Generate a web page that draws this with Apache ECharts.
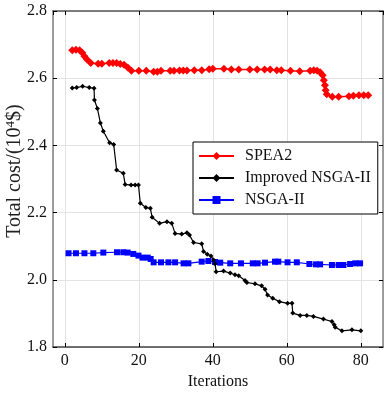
<!DOCTYPE html>
<html><head><meta charset="utf-8">
<script src="https://cdn.jsdelivr.net/npm/echarts@6/dist/echarts.min.js"></script>
<style>html,body{margin:0;padding:0;background:#fff}#c{width:390px;height:393px}</style>
</head><body><div id="c"></div>
<script>
const seriesNames = ['SPEA2', 'Improved NSGA-II', 'NSGA-II'];
const spea2X = [2,3,4,4.7,5.3,6,7,9,10,12,13,14,15,16,17,18,20,22,24,25,26,28.5,29.5,31,32,33,35,37,39,40,43,45,47,50,52,54,55.5,57.3,58.5,61,63.5,66.3,67.3,68.2,69,69.7,70,70.3,70.5,70.8,72.3,74,76.8,78,79.5,80.8,82];
const spea2Y = [2.683,2.685,2.683,2.676,2.665,2.656,2.645,2.643,2.643,2.645,2.645,2.645,2.642,2.64,2.632,2.622,2.622,2.622,2.619,2.619,2.622,2.622,2.622,2.623,2.623,2.623,2.624,2.624,2.627,2.628,2.628,2.626,2.626,2.626,2.626,2.626,2.626,2.624,2.624,2.622,2.621,2.622,2.624,2.622,2.618,2.609,2.594,2.579,2.564,2.552,2.545,2.545,2.546,2.548,2.549,2.549,2.549];
const impX = [2,3.2,4.8,6.6,7.9,8,8.8,9.6,10.4,12.1,13.2,14,15.8,16.3,17.9,19,19.9,20.4,21.9,23.1,23.6,25.6,27.6,28.9,29.8,31.6,33,33.7,34.8,37,37.5,38.5,39.5,40.2,40.6,40.9,42.9,44.7,46,47,48.7,49.2,51.4,53.2,54.1,54.8,56.2,58,60.2,61.4,61.6,63.6,65.4,67.2,69.9,72.2,72.8,73.1,74.9,77.6,80];
const impY = [2.571,2.572,2.576,2.572,2.570,2.535,2.510,2.467,2.442,2.408,2.403,2.327,2.317,2.284,2.282,2.282,2.282,2.228,2.215,2.213,2.186,2.168,2.173,2.168,2.138,2.136,2.140,2.133,2.111,2.107,2.084,2.076,2.071,2.059,2.048,2.024,2.026,2.020,2.015,2.012,1.998,1.992,1.988,1.982,1.972,1.955,1.945,1.935,1.930,1.930,1.901,1.894,1.894,1.891,1.883,1.876,1.866,1.859,1.848,1.851,1.848];
const nsgaX = [1,3,5.3,7.7,10.4,14.1,15.8,17,18.5,19.9,21,22.4,23.2,24,26,28,29.8,32.1,33.4,37,38.8,40.6,42,44.7,47.6,50.8,52.1,54.1,56.8,57.7,60.2,62.7,66.1,67.9,69,72.2,74,75.3,77.1,78.5,79.8];
const nsgaY = [2.079,2.079,2.079,2.079,2.081,2.082,2.082,2.081,2.077,2.072,2.066,2.066,2.062,2.052,2.052,2.052,2.052,2.049,2.049,2.054,2.056,2.053,2.051,2.049,2.049,2.049,2.049,2.051,2.054,2.054,2.052,2.052,2.047,2.046,2.046,2.044,2.044,2.044,2.047,2.049,2.049];
const xName = 'Iterations';
const yMin = 1.8, yMax = 2.8, yStep = 0.2;
const xMin = -3.2, xMax = 86;

const zip = (xs, ys) => xs.map((x, i) => [x, ys[i]]);
const FONT = 'Liberation Serif';
const axisCol = '#808080';
const baseAxis = {
  axisLine: { show: true, onZero: false, lineStyle: { color: axisCol, width: 1.5 } },
  axisTick: { show: true, inside: true, length: 4, lineStyle: { color: '#000', width: 1 } },
  splitLine: { show: false }
};
const chart = echarts.init(document.getElementById('c'), null, { renderer: 'canvas' });
chart.setOption({
  animation: false,
  backgroundColor: '#fff',
  textStyle: { fontFamily: FONT },
  grid: { left: 53, right: 7, top: 11, bottom: 46, containLabel: false, outerBoundsMode: 'none' },
  legend: {
    orient: 'vertical', left: 193, top: 142,
    padding: [6, 7, 6, 5], itemGap: 6, itemWidth: 35, itemHeight: 10,
    borderColor: '#000', borderWidth: 1, backgroundColor: '#fff',
    textStyle: { fontFamily: FONT, fontSize: 16, color: '#111', padding: [0, 0, 0, 6] },
    data: seriesNames
  },
  xAxis: [
    Object.assign({}, baseAxis, {
      type: 'value', min: xMin, max: xMax, position: 'bottom',
      axisLine: { show: true, onZero: false, lineStyle: { color: '#444', width: 1.5 } },
      name: xName, nameLocation: 'middle', nameGap: 23,
      nameTextStyle: { fontFamily: FONT, fontSize: 16, color: '#111' },
      axisLabel: { fontFamily: FONT, fontSize: 16, color: '#111', margin: 6, showMinLabel: false, showMaxLabel: false },
      splitLine: { show: true, lineStyle: { color: '#e3e3e3', width: 1 } }
    }),
    Object.assign({}, baseAxis, {
      type: 'value', min: xMin, max: xMax, position: 'top',
      axisLine: { show: true, onZero: false, lineStyle: { color: '#555', width: 1.5 } },
      axisLabel: { show: false }
    })
  ],
  yAxis: [
    Object.assign({}, baseAxis, {
      type: 'value', min: yMin, max: yMax, interval: yStep, position: 'left',
      name: '{a|Total cost/(10}{s|4}{a|$)}', nameLocation: 'middle', nameGap: 28, nameRotate: 90,
      nameMoveOverlap: false,
      nameTextStyle: { fontFamily: FONT, fontSize: 20, color: '#222', padding: [0, 0, 0, 16],
        rich: { a: { fontFamily: FONT, fontSize: 20, color: '#222' }, s: { fontFamily: FONT, fontSize: 13, color: '#222', padding: [0, 0, 8, 0] } } },
      axisLabel: { fontFamily: FONT, fontSize: 16, color: '#111', margin: 6, formatter: v => v.toFixed(1) },
      splitLine: { show: true, lineStyle: { color: '#e3e3e3', width: 1 } }
    }),
    Object.assign({}, baseAxis, {
      type: 'value', min: yMin, max: yMax, interval: yStep, position: 'right',
      axisLabel: { show: false }
    })
  ],
  series: [
    { name: seriesNames[0], type: 'line', data: zip(spea2X, spea2Y), symbol: 'diamond', symbolSize: 8,
      itemStyle: { color: '#ff0000' }, lineStyle: { color: '#ff0000', width: 1.5 }, z: 3 },
    { name: seriesNames[1], type: 'line', data: zip(impX, impY), symbol: 'diamond', symbolSize: 5,
      itemStyle: { color: '#000' }, lineStyle: { color: '#000', width: 1.2 }, z: 4 },
    { name: seriesNames[2], type: 'line', data: zip(nsgaX, nsgaY), symbol: 'rect', symbolSize: 6,
      itemStyle: { color: '#0000ff' }, lineStyle: { color: '#0000ff', width: 1.2 }, z: 3 }
  ]
});
</script></body></html>
